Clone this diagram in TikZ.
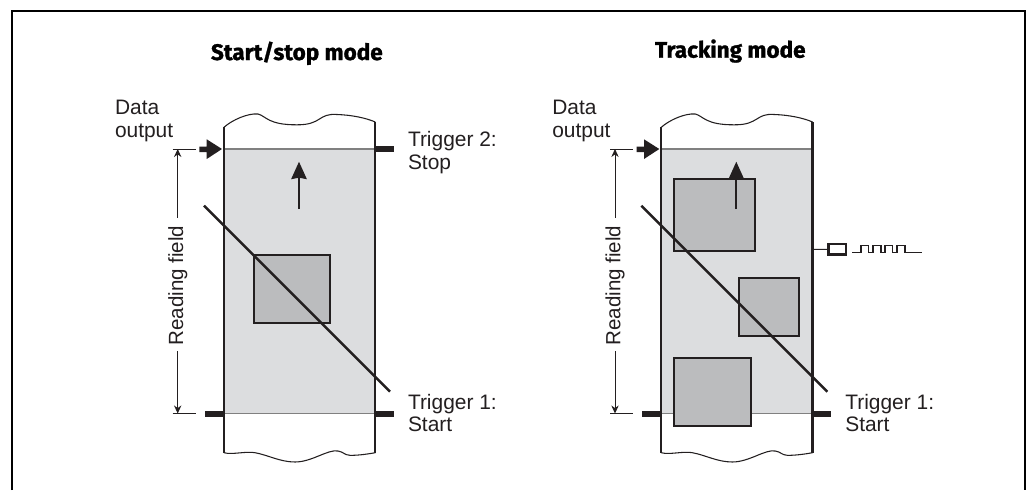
\documentclass[tikz,border=0pt]{standalone}
\usepackage{fontspec}
\setmainfont{Liberation Sans}
\newfontfamily\titlefont[BoldFeatures={FakeBold=1.2}]{Fira Sans}
\usetikzlibrary{arrows.meta}
\definecolor{ink}{HTML}{231F20}
\definecolor{field}{HTML}{DCDDDF}
\definecolor{boxfill}{HTML}{BBBCBE}
\definecolor{edge}{HTML}{808080}
\tikzset{
  x=0.75pt,y=-0.75pt,
  label/.style={inner sep=0pt,outer sep=0pt,anchor=base west,align=left,text=ink,font=\fontsize{15.7}{17}\selectfont},
  title/.style={inner sep=0pt,outer sep=0pt,anchor=base west,text=black,font=\titlefont\bfseries\fontsize{16.9}{20}\selectfont},
  wall/.style={draw=ink,line width=1.7pt},
  wave/.style={draw=ink,line width=0.8pt},
  rim/.style={draw=edge,line width=0.8pt},
  tick/.style={fill=ink,draw=none},
  thin/.style={draw=ink,line width=0.7pt},
  dim/.style={thin,{Stealth[length=6pt,width=5.5pt]}-},
  parcel/.style={draw=ink,fill=boxfill,line width=1.7pt},
  beam/.style={draw=ink,line width=1.9pt},
  motion/.style={draw=ink,line width=1.6pt,-{Stealth[length=13pt,width=11.5pt,inset=1pt]}},
  pulse/.style={draw=ink,line width=1pt,line join=miter},
  blockarrow/.style={fill=ink,draw=none},
}
\newcommand{\panel}[2]{%
  \begin{scope}[xshift=#1*0.75pt]
    \fill[field] (224,149) rectangle (375.3,413.7);
    \draw[rim] (224,149) -- (375.3,149);
    \draw[rim] (224,413.7) -- (375.3,413.7);
    \draw[wave] (224,127.3) .. controls (232,120) and (248,113) .. (258,114)
      .. controls (266,116) and (268,125) .. (297,124.8)
      .. controls (322,125) and (318,113) .. (337,114.5)
      .. controls (352,115) and (366,118) .. (375.3,122);
    \draw[wave] (224,452.7) .. controls (232,455) and (246,451) .. (255,452.7)
      .. controls (268,455) and (280,462) .. (295,462)
      .. controls (312,462) and (328,449) .. (338,451)
      .. controls (344,452) and (344,455) .. (350,455.3)
      .. controls (358,455.5) and (368,454) .. (375.3,452.7);
    \draw[wall] (224,127.3) -- (224,452.7);
    \draw[wall] (375.3,122) -- (375.3,452.7);
    \fill[tick] (205,411) rectangle (224,417);
    \fill[tick] (375.3,411) rectangle (394,417);
    \fill[blockarrow] (199.3,146.7) -- (206.7,146.7) -- (206.7,139.3) -- (222,149)
      -- (206.7,159) -- (206.7,152) -- (199.3,152) -- cycle;
    \coordinate (dt#2) at (177.7,149);
    \coordinate (db#2) at (177.7,413.5);
    \draw[thin] (172.7,149) -- (196,149);
    \draw[thin] (172.7,413.5) -- (196,413.5);
    \node[label,rotate=90,anchor=center,font=\fontsize{15.4}{17}\selectfont] (rf#2) at (177.7,285.5) {Reading field};
    \coordinate (rt#2) at (177.7,218);
    \coordinate (rb#2) at (177.7,351);
    \draw[dim] (dt#2) -- (rt#2);
    \draw[dim] (db#2) -- (rb#2);
    \node[label] (data#2) at (115,137) {Data\\output};
    \node[label] (t1#2) at (408,431.7) {Trigger 1:\\Start};
  \end{scope}}
\begin{document}
\begin{tikzpicture}
\useasboundingbox (0,0) rectangle (1026,490);
\fill[white] (0,0) rectangle (1026,490);
\draw[draw=black,line width=1.6pt,line cap=butt] (12,490) -- (12,11) -- (1025,11) -- (1025,490);
\node[title] (tleft) at (211,60) {Start/stop mode};
\node[title] (tright) at (655,57.7) {Tracking mode};
% left panel
\panel{0}{L}
\fill[tick] (375.3,146) rectangle (394,152);
\node[label] (t2) at (408,169) {Trigger 2:\\Stop};
\coordinate (mLa) at (299,209);
\coordinate (mLb) at (299,161.7);
\draw[motion] (mLa) -- (mLb);
\draw[parcel] (254,255) rectangle (330,323.3);
\coordinate (bLa) at (204,205.7);
\coordinate (bLb) at (390,391.7);
\draw[beam] (bLa) -- (bLb);
% right panel
\panel{437.3}{R}
\draw[parcel] (674.3,178.7) rectangle (754.7,251);
\draw[parcel] (739,278.3) rectangle (798.7,336.3);
\draw[parcel] (674.3,358) rectangle (751,426.3);
\coordinate (mRa) at (736.3,209);
\coordinate (mRb) at (736.3,161.7);
\draw[motion] (mRa) -- (mRb);
\coordinate (bRa) at (641.3,205.7);
\coordinate (bRb) at (827.3,391.7);
\draw[beam] (bRa) -- (bRb);
\node[draw=ink,line width=2pt,minimum width=17.3*0.75pt,minimum height=10.6*0.75pt,inner sep=0pt,outer sep=0pt,anchor=center] (sensor) at (837.3,249.4) {};
\coordinate (wallpt) at (812.7,249.3);
\draw[thin] (wallpt) -- (sensor.west);
\draw[pulse] (852,252.7) -- (861,252.7) -- (861,245.2) -- (868.7,245.2) -- (868.7,252.7) -- (873,252.7) -- (873,245.2) -- (881,245.2) -- (881,252.7) -- (885,252.7) -- (885,245.2) -- (892.7,245.2) -- (892.7,252.7) -- (897,252.7) -- (897,245.2) -- (905,245.2) -- (905,252.7) -- (922,252.7);
\end{tikzpicture}
\end{document}
